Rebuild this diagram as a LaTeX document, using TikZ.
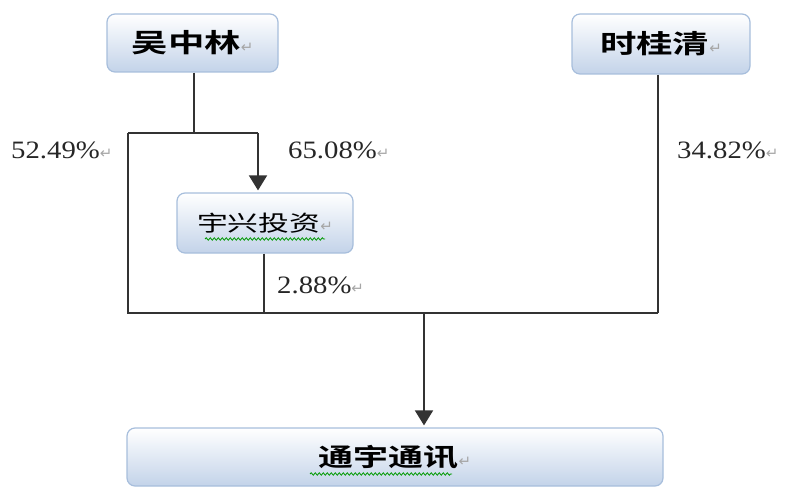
\documentclass[tikz,border=0pt]{standalone}
\usepackage{graphicx}
\usepackage{fontspec}
\setmainfont{Liberation Serif}
\newfontfamily\cjk{Noto Sans CJK SC}[BoldFont={Noto Sans CJK SC Bold}]
\newfontfamily\symf{DejaVu Sans}
\usetikzlibrary{arrows.meta,decorations.pathmorphing}
\definecolor{boxline}{HTML}{A7BEDC}
\definecolor{boxbot}{HTML}{C3D3E9}
\definecolor{lnc}{HTML}{333333}
\newcommand{\pmark}{{\symf\color{gray!70}\fontsize{15}{15}\selectfont ↵}}
\newcommand{\wide}[2]{\scalebox{#1}[1]{#2}}
\tikzset{
  x=1pt, y=-1pt,
  boxnode/.style={draw=boxline, line width=1.2pt, rounded corners=8pt,
    top color=white, bottom color=boxbot, inner sep=0pt, align=center},
  conn/.style={draw=lnc, line width=1.8pt},
  arr/.style={conn, -{Triangle[width=18pt,length=15pt]}},
  pct/.style={text=black!85, inner sep=0pt, anchor=west},
  squig/.style={draw=green!60!black, line width=0.8pt, decorate,
    decoration={snake, amplitude=1.2pt, segment length=4pt}}
}
\newcommand{\pcttext}[1]{\wide{1.15}{\fontsize{25}{25}\selectfont #1}\pmark}
\begin{document}
\begin{tikzpicture}
\useasboundingbox (0,0) rectangle (789,489);
% boxes
\node[boxnode, minimum width=171pt, minimum height=58pt] (wzl) at (192.5,43)
  {\wide{1.4}{\cjk\bfseries\fontsize{26}{26}\selectfont 吴中林}\pmark};
\node[boxnode, minimum width=178pt, minimum height=60pt] (sgq) at (661,44)
  {\wide{1.4}{\cjk\bfseries\fontsize{26}{26}\selectfont 时桂清}\pmark};
\node[boxnode, minimum width=176pt, minimum height=60pt] (yx) at (265,223)
  {\wide{1.4}{\cjk\fontsize{22}{22}\selectfont 宇兴投资}\pmark};
\node[boxnode, minimum width=536pt, minimum height=58pt] (ty) at (395,457)
  {\wide{1.4}{\cjk\bfseries\fontsize{25}{25}\selectfont 通宇通讯}\pmark};
% squiggles
\draw[squig] (205,239) -- (325,239);
\draw[squig] (310,474) -- (452,474);
% junctions
\coordinate (j1) at (194,133);
\coordinate (jl) at (128,133);
\coordinate (jr) at (258,133);
\coordinate (bl) at (128,313);
\coordinate (bm) at (424,313);
\coordinate (br) at (658,313);
\coordinate (bx) at (264,313);
% connectors
\draw[conn] (wzl.south -| j1) -- (j1);
\draw[conn] (jl) -- (jr);
\draw[arr] (jr) -- ([yshift=2pt]jr |- yx.north);
\draw[conn] (jl) -- (bl) -- (br);
\draw[conn] (yx.south -| bx) -- (bx);
\draw[conn] (sgq.south -| br) -- (br);
\draw[arr] (bm) -- ([yshift=2pt]bm |- ty.north);
% labels
\node[pct] (l1) at (11,150) {\pcttext{52.49\%}};
\node[pct] (l2) at (288,150) {\pcttext{65.08\%}};
\node[pct] (l3) at (677,150) {\pcttext{34.82\%}};
\node[pct] (l4) at (277,285) {\pcttext{2.88\%}};
\end{tikzpicture}
\end{document}
